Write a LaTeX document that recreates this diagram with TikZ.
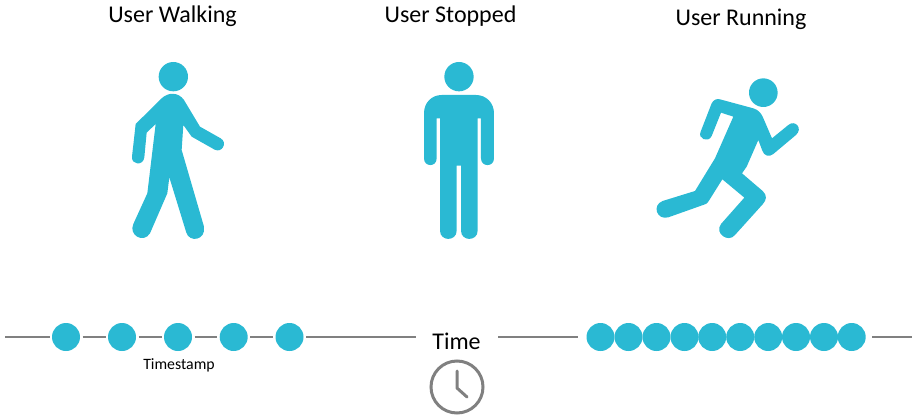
\documentclass[tikz,border=0pt]{standalone}
\usepackage{fontspec}
\setmainfont{Carlito}
\definecolor{fig}{HTML}{2AB9D3}
\definecolor{ln}{HTML}{808080}
\begin{document}
\begin{tikzpicture}[x=1pt,y=-1pt,
  dotn/.style={circle,fill=fig,minimum size=28pt,inner sep=0pt,outer sep=2.5pt},
  dotr/.style={circle,fill=fig,minimum size=28pt,inner sep=0pt},
  rule/.style={draw=ln,line width=2pt},
  title/.style={font=\fontsize{24}{28}\selectfont,inner sep=0pt,text=black}]
\useasboundingbox (0,0) rectangle (912,417);
\node[title] (t1) at (172.5,16.5) {User Walking};
\node[title] (t2) at (450.5,16.5) {User Stopped};
\node[title] (t3) at (741,19.5) {User Running};
% walking
\begin{scope}[shift={(110,50)},x=0.3333pt,y=-0.3333pt]
\fill[fig] (190,80) circle (44);
\fill[fig] (155,145) .. controls (175,126) and (205,126) .. (222,150)
 -- (270,230) -- (332,265) .. controls (354,278) and (336,310) .. (314,299)
 -- (245,260) -- (220,225) -- (215,300) -- (282,530)
 .. controls (288,572) and (238,578) .. (229,548)
 -- (178,382) -- (172,430) -- (120,550)
 .. controls (100,582) and (55,555) .. (70,522)
 -- (112,430) -- (137,222) -- (110,248) -- (103,322)
 .. controls (100,348) and (64,346) .. (66,320) -- (77,222) -- cycle;
\end{scope}
% stopped
\begin{scope}[shift={(400,50)},x=0.3333pt,y=-0.3333pt]
\fill[fig] (177,80) circle (44);
\fill[fig] (72,190) .. controls (72,158) and (95,135) .. (125,135) -- (228,135)
 .. controls (258,135) and (282,158) .. (282,190) -- (282,325)
 .. controls (282,352) and (243,352) .. (243,325) -- (243,205) -- (233,205) -- (233,542)
 .. controls (233,575) and (183,575) .. (183,542) -- (183,347) -- (170,347) -- (170,542)
 .. controls (170,575) and (120,575) .. (120,542) -- (120,205) -- (110,205) -- (110,325)
 .. controls (110,352) and (72,352) .. (72,325) -- cycle;
\end{scope}
% running
\begin{scope}[shift={(640,60)},x=0.3333pt,y=-0.3333pt]
\fill[fig] (370,98) circle (43);
\fill[fig] (240,118) -- (340,145) .. controls (355,150) and (362,158) .. (368,170)
 -- (396,235) -- (445,195) .. controls (465,178) and (490,205) .. (468,225)
 -- (400,282) .. controls (388,292) and (372,288) .. (367,272)
 -- (355,240) -- (320,320) -- (306,340) -- (368,393)
 .. controls (382,406) and (380,420) .. (368,433)
 -- (285,525) .. controls (265,550) and (222,520) .. (243,492)
 -- (313,413) -- (247,358) -- (205,425) .. controls (202,430) and (198,432) .. (195,433)
 -- (85,472) .. controls (50,482) and (35,435) .. (68,423)
 -- (165,393) -- (225,295) -- (280,170) -- (243,158) -- (215,228)
 .. controls (205,250) and (172,236) .. (182,215)
 -- (215,130) .. controls (220,120) and (230,115) .. (240,118) -- cycle;
\end{scope}
% timeline
\coordinate (L0) at (5,337);
\coordinate (L1) at (416,337);
\coordinate (R0) at (498,337);
\coordinate (R2) at (578,337);
\coordinate (R3) at (872,337);
\coordinate (R1) at (912,337);
\foreach \n/\x in {a/66,b/122,c/178,d/233.7,e/289.5}
  \node[dotn] (\n) at (\x,337) {};
\foreach \n/\x in {p/600.5,q/628.5,r/656.5,s/684.5,t/712.2,u/740.2,v/768.2,w/796,y/824,z/851.7}
  \node[dotr] (\n) at (\x,337) {};
\draw[rule] (L0) -- (a);
\draw[rule] (a) -- (b);
\draw[rule] (b) -- (c);
\draw[rule] (c) -- (d);
\draw[rule] (d) -- (e);
\draw[rule] (e) -- (L1);
\draw[rule] (R0) -- (R2);
\draw[rule] (R3) -- (R1);
\node[font=\fontsize{15.8}{18}\selectfont,inner sep=0pt] (ts) at (179,365) {Timestamp};
\node[font=\fontsize{24}{28}\selectfont,inner sep=0pt] (time) at (456.5,341) {Time};
% clock
\node[circle,draw=ln,line width=3pt,minimum size=52pt,inner sep=0pt] (clk) at (457,387) {};
\draw[ln,line width=3pt,line cap=round,line join=round] (457,371) -- (457,388) -- (467,397);
\end{tikzpicture}
\end{document}
